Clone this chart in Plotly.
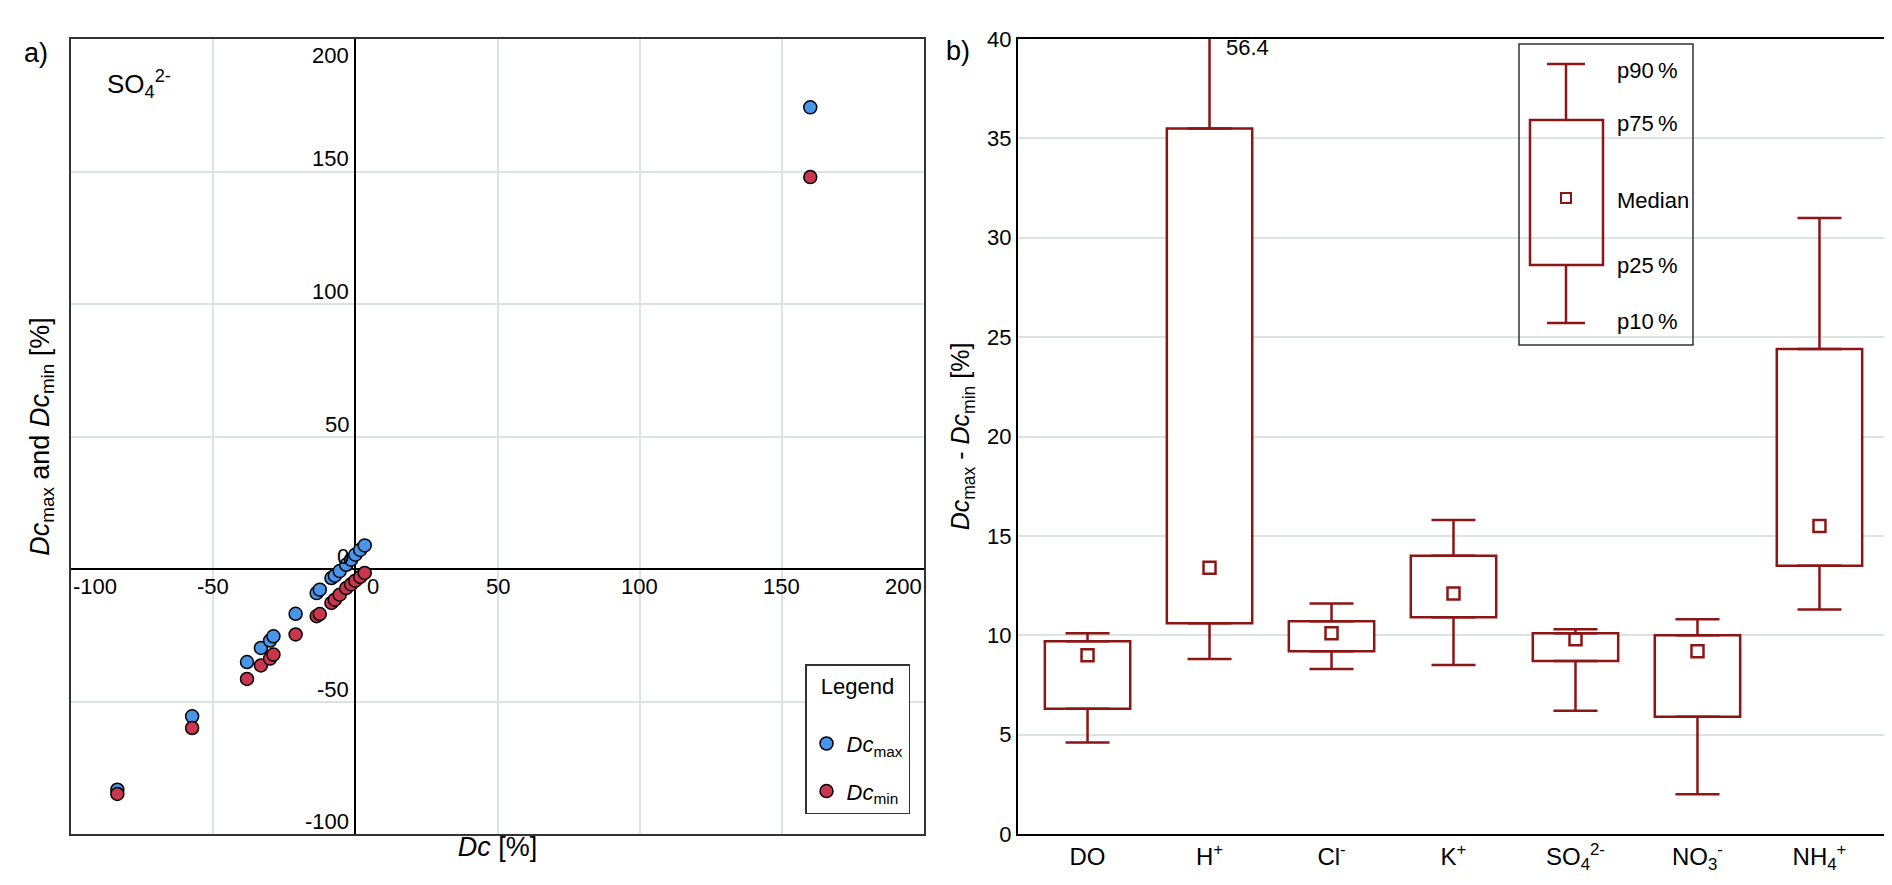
import plotly.graph_objects as go

W, H = 1892, 885
FONT = "Liberation Sans"
RED_DARK = "#8c1515"
GRID = "#dce4e2"

# a) SO4 deviations, one entry per sample
dc = [-83.7, -57.4, -38.1, -33.2, -30.0, -28.8, -21.0, -13.6, -12.5, -8.4, -7.2,
      -5.5, -3.2, -1.5, 0.0, 1.7, 3.3, 160.0]
dc_max = [-83.3, -55.6, -35.1, -29.8, -27.0, -25.4, -16.9, -9.1, -7.8, -3.4, -2.5,
          -0.8, 1.6, 3.5, 5.4, 7.2, 8.9, 174.2]
dc_min = [-84.9, -60.0, -41.5, -36.4, -33.8, -32.3, -24.7, -17.8, -17.0, -12.8, -11.6,
          -9.7, -7.2, -5.8, -4.4, -3.0, -1.5, 147.9]
a_ticks = [-100, -50, 0, 50, 100, 150, 200]

# b) Dcmax - Dcmin percentiles per parameter
ions = ["DO", "H<sup>+</sup>", "Cl<sup>-</sup>", "K<sup>+</sup>",
        "SO<sub>4</sub><sup>2-</sup>", "NO<sub>3</sub><sup>-</sup>", "NH<sub>4</sub><sup>+</sup>"]
p10 = [4.6, 8.8, 8.3, 8.5, 6.2, 2.0, 11.3]
p25 = [6.3, 10.6, 9.2, 10.9, 8.7, 5.9, 13.5]
median = [9.0, 13.4, 10.1, 12.1, 9.8, 9.2, 15.5]
p75 = [9.7, 35.5, 10.7, 14.0, 10.1, 10.0, 24.4]
p90 = [10.1, 56.4, 11.6, 15.8, 10.3, 10.8, 31.0]
b_ticks = list(range(0, 41, 5))
legend_labels = ["p90\u2009%", "p75\u2009%", "Median", "p25\u2009%", "p10\u2009%"]


def px(x, y):
    return x / W, 1 - y / H


pos = list(range(len(ions)))

fig = go.Figure()

marker_line = dict(color="black", width=1.5)
fig.add_trace(go.Scatter(x=dc, y=dc_max, mode="markers", name="<i>Dc</i><sub>max</sub>",
                         legendgroup="max",
                         marker=dict(size=13, color="#4895ea", line=marker_line),
                         xaxis="x", yaxis="y"))
fig.add_trace(go.Scatter(x=dc, y=dc_min, mode="markers", name="<i>Dc</i><sub>min</sub>",
                         legendgroup="min",
                         marker=dict(size=13, color="#c8374d", line=marker_line),
                         xaxis="x", yaxis="y"))

# boxes p25..p75
fig.add_trace(go.Bar(x=pos, base=p25, y=[b - a for a, b in zip(p25, p75)], width=0.7,
                     marker=dict(color="white", line=dict(color=RED_DARK, width=2.5)),
                     showlegend=False, xaxis="x2", yaxis="y2"))
# whiskers with caps
err_style = dict(type="data", symmetric=False, color=RED_DARK, thickness=2.5, width=22)
fig.add_trace(go.Scatter(x=pos, y=p75, mode="markers", marker=dict(size=1, opacity=0),
                         error_y=dict(array=[b - a for a, b in zip(p75, p90)],
                                      arrayminus=[0] * len(pos), **err_style),
                         showlegend=False, xaxis="x2", yaxis="y2"))
fig.add_trace(go.Scatter(x=pos, y=p25, mode="markers", marker=dict(size=1, opacity=0),
                         error_y=dict(array=[0] * len(pos),
                                      arrayminus=[a - b for a, b in zip(p25, p10)], **err_style),
                         showlegend=False, xaxis="x2", yaxis="y2"))
fig.add_trace(go.Scatter(x=pos, y=median, mode="markers",
                         marker=dict(symbol="square-open", size=12, color=RED_DARK,
                                     line=dict(color=RED_DARK, width=2.5)),
                         showlegend=False, xaxis="x2", yaxis="y2"))

axis_common = dict(showline=True, mirror=True, ticks="", automargin=False)

fig.update_layout(
    width=W, height=H,
    margin=dict(l=0, r=0, t=0, b=0),
    paper_bgcolor="white", plot_bgcolor="white",
    font=dict(family=FONT, size=22, color="black"),
    xaxis=dict(domain=[63 / W, 916 / W], range=[-100, 200], tickvals=a_ticks,
               showticklabels=False, gridcolor=GRID, gridwidth=1.5,
               zeroline=True, zerolinecolor="black", zerolinewidth=2,
               linecolor="#333", linewidth=2,
               title=dict(text="<i>Dc</i> [%]", font=dict(size=27), standoff=2), **axis_common),
    yaxis=dict(domain=[1 - 826 / H, 1 - 31 / H], range=[-100, 200], tickvals=a_ticks,
               showticklabels=False, gridcolor=GRID, gridwidth=1.5,
               zeroline=True, zerolinecolor="black", zerolinewidth=2,
               linecolor="#333", linewidth=2,
               title=dict(text="<i>Dc</i><sub>max</sub> and <i>Dc</i><sub>min</sub> [%]",
                          font=dict(size=27), standoff=12), **axis_common),
    xaxis2=dict(domain=[1010 / W, 1881 / W], range=[-0.57, 6.57], tickvals=pos, ticktext=ions,
                showgrid=False, zeroline=False, linecolor="black", linewidth=2,
                tickfont=dict(size=24), anchor="y2", **axis_common),
    yaxis2=dict(domain=[1 - 826 / H, 1 - 31 / H], range=[0, 40], tickvals=b_ticks,
                gridcolor=GRID, gridwidth=1.5, zeroline=False, linecolor="black", linewidth=2,
                tickfont=dict(size=22), anchor="x2",
                title=dict(text="<i>Dc</i><sub>max</sub> - <i>Dc</i><sub>min</sub> [%]",
                           font=dict(size=25), standoff=10), **axis_common),
    legend=dict(x=902 / W, xanchor="right", y=1 - 806 / H, yanchor="bottom",
                bordercolor="#333", borderwidth=1.5, bgcolor="white",
                title=dict(text="  Legend<br> ", font=dict(size=22)),
                traceorder="grouped", tracegroupgap=16, font=dict(size=22)),
    showlegend=True,
)

# tick labels placed along the axes crossing at zero
for v in a_ticks:
    if v == a_ticks[0]:
        xa, xs = "left", 0
    elif v == a_ticks[-1]:
        xa, xs = "right", 0
    elif v == 0:
        xa, xs = "left", 10
    else:
        xa, xs = "center", 0
    fig.add_annotation(x=v, y=0, xref="x", yref="y", text=str(v), showarrow=False,
                       xanchor=xa, yanchor="top", xshift=xs, yshift=-3,
                       font=dict(size=22))
    fig.add_annotation(x=0, y=v, xref="x", yref="y", text=str(v), showarrow=False,
                       xanchor="right", yanchor="top" if v == a_ticks[-1] else "bottom",
                       xshift=-4, yshift=-2,
                       font=dict(size=22))

fig.add_annotation(x=0.04, y=0.968, xref="x domain", yref="y domain",
                   text="SO<sub>4</sub><sup>2-</sup>", showarrow=False,
                   xanchor="left", yanchor="top", font=dict(size=26))

# off-scale whisker value for H+
fig.add_annotation(x=pos[1], y=40, xref="x2", yref="y2", text=f"{p90[1]}",
                   showarrow=False, xanchor="left", yanchor="top", xshift=14, yshift=6,
                   font=dict(size=22))

# panel letters
for label, (lx, ly) in (("a)", (14, 28)), ("b)", (936, 26))):
    ax, ay = px(lx, ly)
    fig.add_annotation(x=ax, y=ay, xref="paper", yref="paper", text=label, showarrow=False,
                       xanchor="left", yanchor="top", font=dict(size=27))

# schematic percentile legend in panel b
shape_line = dict(color=RED_DARK, width=2.5)
wx = 1558
boxes = [
    ("rect", (1511, 36, 1685, 337), dict(color="#333", width=1.5)),
    ("line", (wx, 56, wx, 112), shape_line),
    ("line", (1539, 56, 1577, 56), shape_line),
    ("rect", (1522, 112, 1595, 257), shape_line),
    ("rect", (1553, 185, 1563, 195), dict(color=RED_DARK, width=2)),
    ("line", (wx, 257, wx, 315), shape_line),
    ("line", (1539, 315, 1577, 315), shape_line),
]
for kind, (x0, y0, x1, y1), line in boxes:
    a0, b0 = px(x0, y0)
    a1, b1 = px(x1, y1)
    fig.add_shape(type=kind, xref="paper", yref="paper", x0=a0, y0=b0, x1=a1, y1=b1,
                  line=line, layer="above")
for text, ty in zip(legend_labels, [62, 115, 192, 257, 313]):
    ax, ay = px(1607, ty)
    fig.add_annotation(x=ax, y=ay, xref="paper", yref="paper", text=text, showarrow=False,
                       xanchor="left", yanchor="middle", font=dict(size=22))

fig.write_html("out.html")
